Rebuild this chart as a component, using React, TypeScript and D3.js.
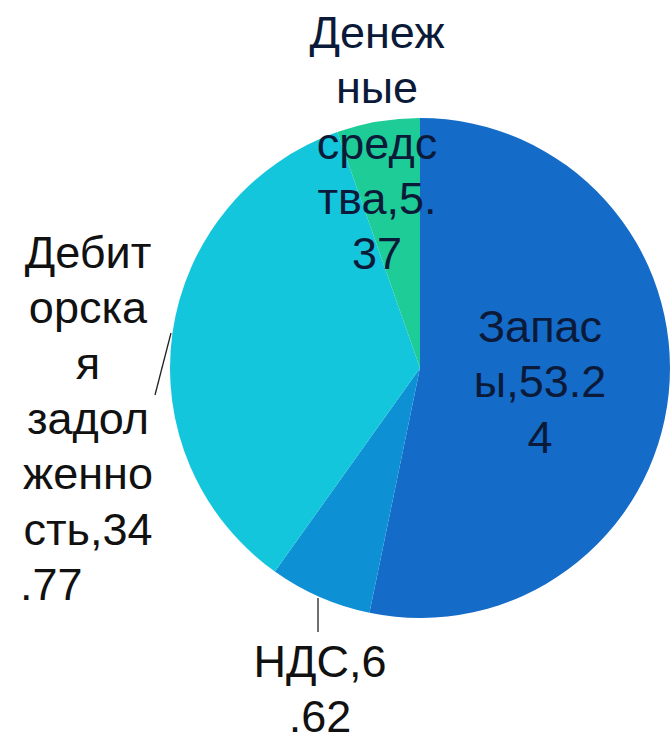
import React from "react";
import * as d3 from "d3";

const categories = ["Запасы", "НДС", "Дебиторская задолженность", "Денежные средства"];
const values = [53.24, 6.62, 34.77, 5.37];
const colors = ["#156BC8", "#0E90D5", "#14C6DC", "#1ECC98"];
const labelLines = [
  ["Запас", "ы,53.2", "4"],
  ["НДС,6", ".62"],
  ["Дебит", "орска", "я", "задол", "женно", "сть,34", ".77"],
  ["Денеж", "ные", "средс", "тва,5.", "37"],
];

const W = 672;
const H = 749;
const cx = 420;
const cy = 368;
const R = 250;
const fontSize = 45;
const lineH = 55.3;

// label layout: anchor x, first baseline y, alignment per line
const labelLayout = [
  { x: 540, y: 342, inside: true },
  { x: 320, y: 677, inside: false, leader: [[318, 598], [318, 632]] },
  { x: 88, y: 268, inside: false, leader: [[171, 333], [155, 395]], lastLeft: 20 },
  { x: 377, y: 48, inside: false },
];

export default function App() {
  const pie = d3.pie<number>().sort(null).startAngle(0).endAngle(2 * Math.PI);
  const arcs = pie(values);
  const arc = d3.arc<d3.PieArcDatum<number>>().innerRadius(0).outerRadius(R);

  return (
    <svg
      width={W}
      height={H}
      style={{ position: "absolute", left: 0, top: 0, background: "#ffffff" }}
      fontFamily="'Liberation Sans', Arial, sans-serif"
    >
      <rect width={W} height={H} fill="#ffffff" />
      <g transform={`translate(${cx},${cy})`}>
        {arcs.map((a, i) => (
          <path key={categories[i]} d={arc(a) || ""} fill={colors[i]} />
        ))}
      </g>
      {labelLayout.map((l, i) =>
        l.leader ? (
          <line
            key={"ld" + i}
            x1={l.leader[0][0]}
            y1={l.leader[0][1]}
            x2={l.leader[1][0]}
            y2={l.leader[1][1]}
            stroke="#222"
            strokeWidth={1.3}
          />
        ) : null
      )}
      {labelLayout.map((l, i) => (
        <g key={"lb" + i} fill={l.inside ? "#0b1a38" : i === 3 ? "#0b1a38" : "#111"} fontSize={fontSize}>
          {labelLines[i].map((t, j) => {
            const isLast = j === labelLines[i].length - 1;
            const left = isLast && l.lastLeft !== undefined;
            return (
              <text
                key={j}
                x={left ? l.lastLeft : l.x}
                y={l.y + j * lineH}
                textAnchor={left ? "start" : "middle"}
              >
                {t}
              </text>
            );
          })}
        </g>
      ))}
    </svg>
  );
}
